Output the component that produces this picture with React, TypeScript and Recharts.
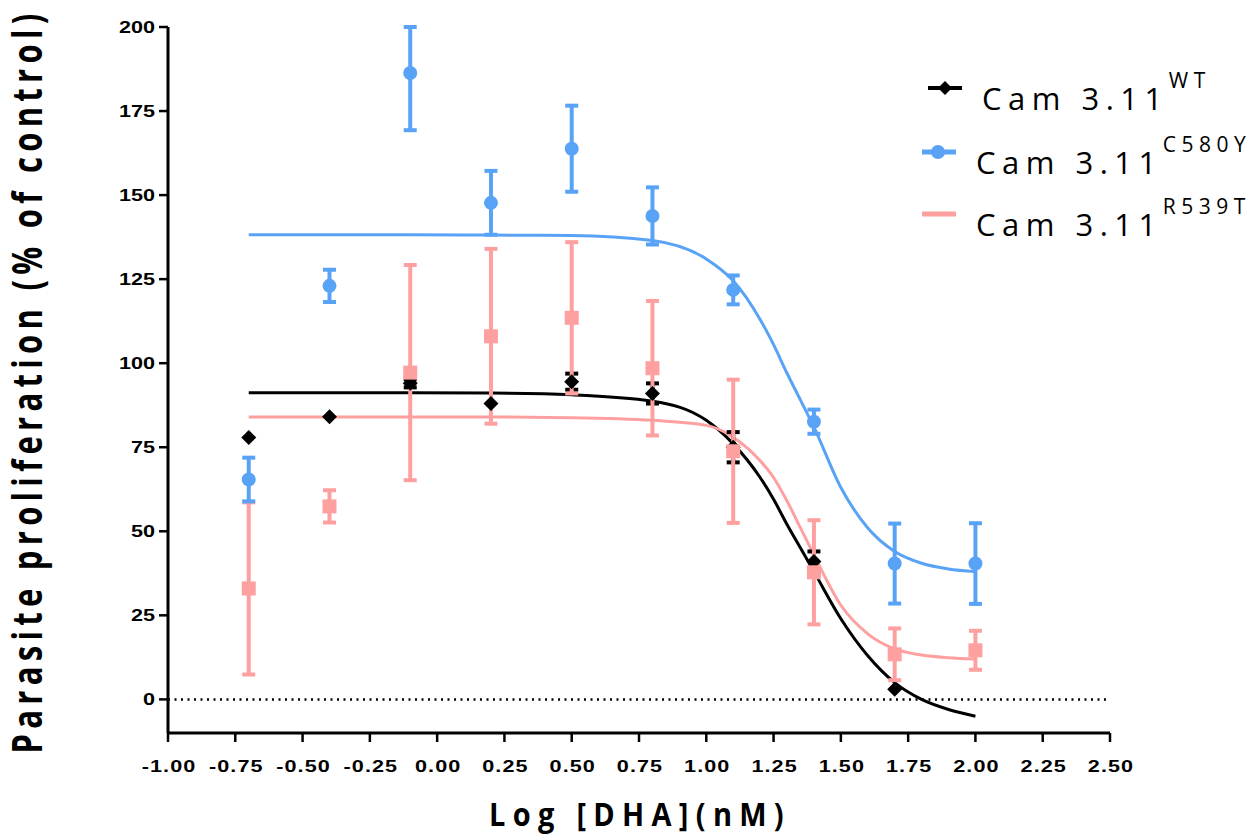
import { ComposedChart, Scatter, Line, XAxis, YAxis, ErrorBar, ReferenceLine, Label } from 'recharts'

// log dose values where the assays were measured
const doseX = [-0.7, -0.4, -0.1, 0.2, 0.5, 0.8, 1.1, 1.4, 1.7, 2.0]

const wtMean = [77.9, 84.1, 94, 88, 94.5, 91, 75, 41, 3]
const wtErr = [0, 0, 1.2, 0, 2.4, 3, 4.5, 3, 0]

const c580yMean = [65.4, 123, 186.3, 147.7, 163.8, 143.8, 121.8, 82.6, 40.4, 40.4]
const c580yErr: (number | number[])[] = [6.5, 4.8, [17, 13.7], 9.5, 12.8, 8.5, 4.3, 3.6, 11.9, 12]

const r539tMean = [33, 57.4, 97.2, 108, 113.5, 98.5, 73.8, 37.8, 13.4, 14.6]
const r539tErr = [25.6, 4.8, 32, 26, 22.5, 20, 21.3, 15.5, 7.7, 5.8]

// fitted dose-response curves
const curveX = [-0.7, -0.4, -0.1, 0.2, 0.5, 0.8, 1.0, 1.1, 1.2, 1.25, 1.3, 1.35, 1.4, 1.5, 1.6, 1.7, 1.8, 1.9, 2.0]
const wtFit = [91.2, 91.2, 91.2, 91.1, 90.6, 88.7, 83, 76, 66, 59.5, 52, 45, 38, 24, 13, 5, 0, -3, -5]
const c580yFit = [138.2, 138.2, 138.2, 138.1, 138, 136.5, 131, 124.5, 113, 105.5, 97, 89, 81, 63, 51, 44, 40.5, 38.8, 38]
const r539tFit = [84, 84, 84, 84, 83.8, 83, 81.5, 78, 71, 66, 59, 51, 43, 28, 19.5, 15, 13.2, 12.4, 12]

const xTicks = [-1, -0.75, -0.5, -0.25, 0, 0.25, 0.5, 0.75, 1, 1.25, 1.5, 1.75, 2, 2.25, 2.5]
const yTicks = [0, 25, 50, 75, 100, 125, 150, 175, 200]

const BLUE = '#59a3f6'
const PINK = '#ffa0a0'

const pts = (m: number[], e: any[]) => m.map((y, i) => ({ x: doseX[i], y, err: e[i] }))
const fit = (f: number[]) => f.map((y, i) => ({ x: curveX[i], y }))

const Diamond = (p: any) => <path d={`M${p.cx},${p.cy - 7.5}L${p.cx + 7.5},${p.cy}L${p.cx},${p.cy + 7.5}L${p.cx - 7.5},${p.cy}Z`} fill="#000" />
const Dot = (p: any) => <circle cx={p.cx} cy={p.cy} r={7} fill={BLUE} />
const Sq = (p: any) => <rect x={p.cx - 7} y={p.cy - 7} width={14} height={14} fill={PINK} />

// tick labels in the original are wide, stretched sideways
const YTick = ({ x, y, payload }: any) =>
  <text transform={`translate(${x - 2},${y + 6}) scale(1.35,1)`} textAnchor="end" fontFamily="'Liberation Sans', Arial" fontWeight={700} fontSize={16} fill="#000">{payload.value}</text>

const XTick = ({ x, y, payload }: any) =>
  <text transform={`translate(${x + 1},${y + 28}) scale(1.35,1)`} textAnchor="middle" fontFamily="'Liberation Sans', Arial" fontWeight={700} fontSize={16} letterSpacing={0.8} fill="#000">{Number(payload.value).toFixed(2)}</text>

const legendRows = [
  { label: 'WT', color: '#000', y: 110, x: 982 },
  { label: 'C580Y', color: BLUE, y: 174, x: 976 },
  { label: 'R539T', color: PINK, y: 236, x: 976 },
]

export default function App() {
  return (
    <div style={{ position: 'absolute', left: 0, top: 0, width: 1254, height: 834, background: '#fff' }}>
      <ComposedChart width={1254} height={834} margin={{ top: 27, right: 144, bottom: 41, left: 0 }}>
        <XAxis dataKey="x" type="number" domain={[-1, 2.5]} ticks={xTicks} interval={0} allowDataOverflow
          height={60} tickSize={9} tick={<XTick />} axisLine={{ stroke: '#000', strokeWidth: 3 }} tickLine={{ stroke: '#000', strokeWidth: 2.5 }}>
          <Label content={() => <text transform="translate(640,826) scale(1,1.12)" textAnchor="middle" fontFamily="'Open Sans'" fontWeight={700} fontSize={29} letterSpacing={7.3} fill="#000">Log [DHA](nM)</text>} />
        </XAxis>
        <YAxis dataKey="y" type="number" domain={[-10, 200]} ticks={yTicks} interval={0} allowDataOverflow
          width={168} tickSize={9} tick={<YTick />} axisLine={{ stroke: '#000', strokeWidth: 3 }} tickLine={{ stroke: '#000', strokeWidth: 2.5 }}>
          <Label content={() => <text transform="translate(42,381) rotate(-90) scale(1,1.3)" textAnchor="middle" fontFamily="'Open Sans'" fontWeight={700} fontSize={31} letterSpacing={5.3} fill="#000">Parasite proliferation (% of control)</text>} />
        </YAxis>
        <ReferenceLine y={0} stroke="#000" strokeWidth={2.5} strokeDasharray="2 4.5" />
        <Line data={fit(wtFit)} dataKey="y" type="monotone" stroke="#000" strokeWidth={3} dot={false} activeDot={false} isAnimationActive={false} />
        <Line data={fit(r539tFit)} dataKey="y" type="monotone" stroke={PINK} strokeWidth={3} dot={false} activeDot={false} isAnimationActive={false} />
        <Line data={fit(c580yFit)} dataKey="y" type="monotone" stroke={BLUE} strokeWidth={3} dot={false} activeDot={false} isAnimationActive={false} />
        <Scatter data={pts(wtMean, wtErr)} dataKey="y" shape={Diamond} isAnimationActive={false}>
          <ErrorBar dataKey="err" direction="y" width={6.5} strokeWidth={4} stroke="#000" />
        </Scatter>
        <Scatter data={pts(r539tMean, r539tErr)} dataKey="y" shape={Sq} isAnimationActive={false}>
          <ErrorBar dataKey="err" direction="y" width={6.5} strokeWidth={4} stroke={PINK} />
        </Scatter>
        <Scatter data={pts(c580yMean, c580yErr)} dataKey="y" shape={Dot} isAnimationActive={false}>
          <ErrorBar dataKey="err" direction="y" width={6.5} strokeWidth={4} stroke={BLUE} />
        </Scatter>
      </ComposedChart>
      <svg width={1254} height={834} style={{ position: 'absolute', left: 0, top: 0, pointerEvents: 'none' }}>
        {legendRows.map((r, i) => (
          <g key={r.label}>
            <line x1={r.x - 54} x2={r.x - 20} y1={r.y - 22} y2={r.y - 22} stroke={r.color} strokeWidth={i === 0 ? 4 : 5} />
            {i === 0 && <path d={`M${r.x - 37},${r.y - 29}L${r.x - 30},${r.y - 22}L${r.x - 37},${r.y - 15}L${r.x - 44},${r.y - 22}Z`} fill="#000" />}
            {i === 1 && <circle cx={r.x - 38} cy={r.y - 22} r={7} fill={BLUE} />}
            <text x={r.x} y={r.y} fontFamily="'Open Sans'" fontSize={31} letterSpacing={6.5} fill="#000">
              Cam 3.11<tspan dy={-22} fontSize={21} letterSpacing={5.5}>{r.label}</tspan>
            </text>
          </g>
        ))}
      </svg>
    </div>
  )
}
